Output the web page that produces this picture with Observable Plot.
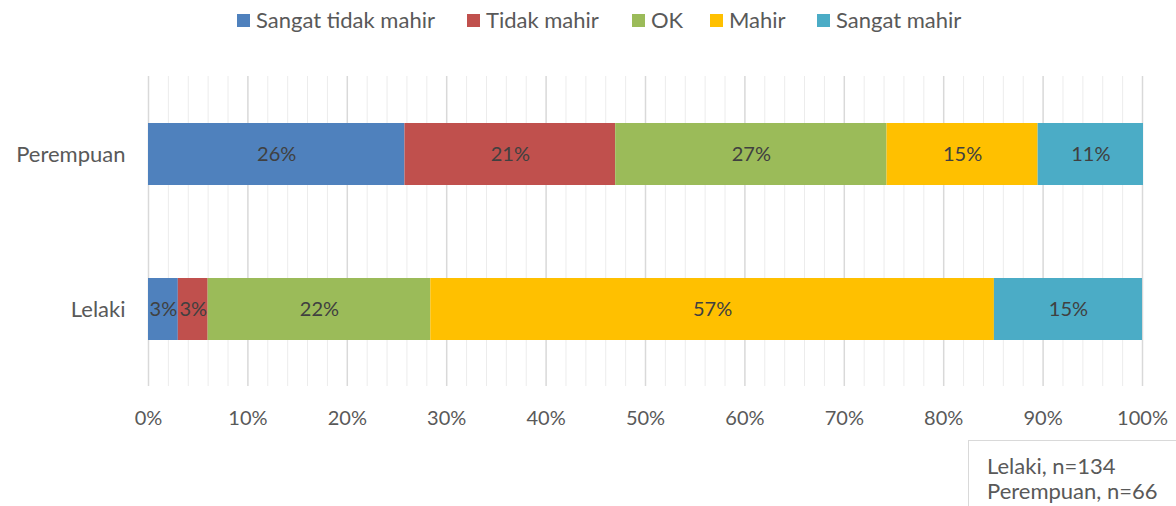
<!DOCTYPE html>
<html>
<head>
<meta charset="utf-8">
<script src="https://cdn.jsdelivr.net/npm/d3@7"></script>
<script src="https://cdn.jsdelivr.net/npm/@observablehq/plot@0.6"></script>
<style>
  html, body { margin: 0; padding: 0; background: #fff; }
  body { width: 1176px; height: 506px; position: relative; overflow: hidden; font-family: Lato, "Open Sans", sans-serif; }
  #legend { position: absolute; left: 0; top: 0; width: 1176px; height: 42px; }
  .item { position: absolute; top: 7px; font-size: 22px; color: #595959; line-height: 26px; white-space: nowrap; }
  .sw { position: absolute; width: 13px; height: 13px; }
  #chart { position: absolute; left: 0; top: 42px; }
  #note { position: absolute; left: 968px; top: 440px; width: 210px; height: 70px; border-top: 1px solid #d9d9d9; border-left: 1px solid #d9d9d9; box-sizing: border-box; padding: 12px 0 0 18px; font-size: 22px; line-height: 25px; color: #595959; }
</style>
</head>
<body>
<div id="legend"></div>
<div id="chart"></div>
<div id="note"><div>Lelaki, n=134</div><div>Perempuan, n=66</div></div>
<script>
const groups = ["Perempuan", "Lelaki"];
const seriesNames = ["Sangat tidak mahir", "Tidak mahir", "OK", "Mahir", "Sangat mahir"];
const colors = ["#4F81BD", "#C0504D", "#9BBB59", "#FFC000", "#4BACC6"];
const perempuanValues = [25.8, 21.2, 27.3, 15.2, 10.6];
const lelakiValues = [3.0, 3.0, 22.4, 56.7, 14.9];
const majorTicks = [0, 10, 20, 30, 40, 50, 60, 70, 80, 90, 100];
const minorTicks = [2, 4, 6, 8, 12, 14, 16, 18, 22, 24, 26, 28, 32, 34, 36, 38, 42, 44, 46, 48, 52, 54, 56, 58, 62, 64, 66, 68, 72, 74, 76, 78, 82, 84, 86, 88, 92, 94, 96, 98];

const data = [];
seriesNames.forEach((s, i) => {
  data.push({group: "Perempuan", series: s, value: perempuanValues[i]});
  data.push({group: "Lelaki", series: s, value: lelakiValues[i]});
});

// Legend
const legendPos = [237, 467, 632, 710, 817];
const legend = document.getElementById("legend");
seriesNames.forEach((s, i) => {
  const sw = document.createElement("div");
  sw.className = "sw";
  sw.style.left = legendPos[i] + "px";
  sw.style.top = "14px";
  sw.style.background = colors[i];
  legend.appendChild(sw);
  const t = document.createElement("div");
  t.className = "item";
  t.style.left = (legendPos[i] + 19) + "px";
  t.textContent = s;
  legend.appendChild(t);
});

const chart = Plot.plot({
  width: 1176,
  height: 464,
  marginLeft: 148,
  marginRight: 34,
  marginTop: 34,
  marginBottom: 120,
  style: {fontFamily: "Lato, 'Open Sans', sans-serif", fontSize: "20px", color: "#595959", background: "#fff"},
  x: {domain: [0, 100], ticks: majorTicks, tickFormat: d => d + "%", tickSize: 0, tickPadding: 24, label: null},
  y: {domain: groups, paddingInner: 0.6, paddingOuter: 0.3, tickSize: 0, tickPadding: 23, label: null},
  color: {domain: seriesNames, range: colors},
  marks: [
    Plot.ruleX(minorTicks, {stroke: "#ececec", strokeWidth: 1}),
    Plot.ruleX(majorTicks, {stroke: "#d9d9d9", strokeWidth: 1.5}),
    Plot.barX(data, Plot.stackX({x: "value", y: "group", fill: "series", order: null})),
    Plot.text(data, Plot.stackX({x: "value", y: "group", z: "series", order: null, text: d => Math.round(d.value) + "%", fill: "#404040", fontSize: 20}))
  ]
});
chart.querySelectorAll("g[aria-label='y-axis tick label'] text").forEach(t => t.style.fontSize = "22px");
document.getElementById("chart").appendChild(chart);
</script>
</body>
</html>
